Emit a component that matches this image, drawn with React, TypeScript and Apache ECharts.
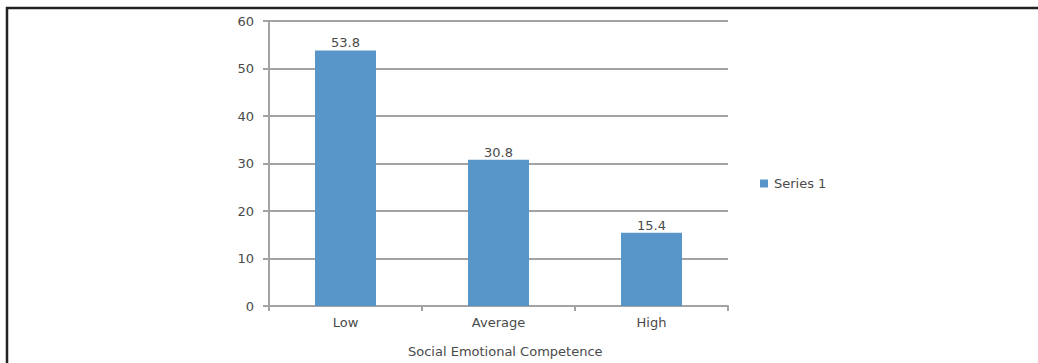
import React, { useEffect, useRef } from "react";
import * as echarts from "echarts";

const categories = ["Low", "Average", "High"];
const seriesName = "Series 1";
const values = [53.8, 30.8, 15.4];
const axisTitle = "Social Emotional Competence";
const yMin = 0;
const yMax = 60;
const yStep = 10;

const FONT = "'DejaVu Sans', sans-serif";
const FS = 13;
const TEXT = "#4a4a4a";
const GRID = "#a3a3a3";
const BAR = "#5896CA";

export default function App() {
  const ref = useRef<HTMLDivElement>(null);

  useEffect(() => {
    if (!ref.current) return;
    const chart = echarts.init(ref.current, undefined, { renderer: "svg" });
    chart.setOption({
      animation: false,
      backgroundColor: "#ffffff",
      grid: { left: 269, top: 21, width: 459, height: 285, containLabel: false },
      legend: {
        data: [{ name: seriesName, icon: "rect" }],
        left: 755,
        top: 172,
        itemWidth: 8,
        itemHeight: 8,
        itemGap: 6,
        textStyle: { fontFamily: FONT, fontSize: FS, color: TEXT, padding: [0, 0, 0, 1] },
      },
      xAxis: {
        type: "category",
        data: categories,
        axisLine: { lineStyle: { color: GRID, width: 2 } },
        axisTick: { show: true, length: 5, alignWithLabel: false, lineStyle: { color: GRID, width: 2 } },
        axisLabel: { fontFamily: FONT, fontSize: FS, color: TEXT, margin: 10 },
      },
      yAxis: {
        type: "value",
        min: yMin,
        max: yMax,
        interval: yStep,
        axisLine: { show: true, lineStyle: { color: GRID, width: 2 } },
        axisTick: { show: true, length: 6, lineStyle: { color: GRID, width: 2 } },
        axisLabel: { fontFamily: FONT, fontSize: FS, color: TEXT, margin: 15 },
        splitLine: { lineStyle: { color: GRID, width: 2 } },
      },
      series: [
        {
          name: seriesName,
          type: "bar",
          data: values,
          barWidth: 61,
          itemStyle: { color: BAR },
          label: {
            show: true,
            position: "top",
            distance: 1,
            fontFamily: FONT,
            fontSize: FS,
            color: TEXT,
          },
        },
      ],
      graphic: [
        {
          type: "text",
          left: 408,
          top: 345,
          style: { text: axisTitle, fontFamily: FONT, fontSize: FS, fill: TEXT },
        },
        {
          type: "line",
          shape: { x1: 6, y1: 8, x2: 1038, y2: 8 },
          style: { stroke: "#222222", lineWidth: 2.5 },
        },
        {
          type: "line",
          shape: { x1: 7, y1: 7, x2: 7, y2: 363 },
          style: { stroke: "#222222", lineWidth: 2.5 },
        },
      ],
    });
    return () => chart.dispose();
  }, []);

  return (
    <div
      ref={ref}
      style={{ position: "fixed", left: 0, top: 0, width: 1038, height: 363 }}
    />
  );
}
